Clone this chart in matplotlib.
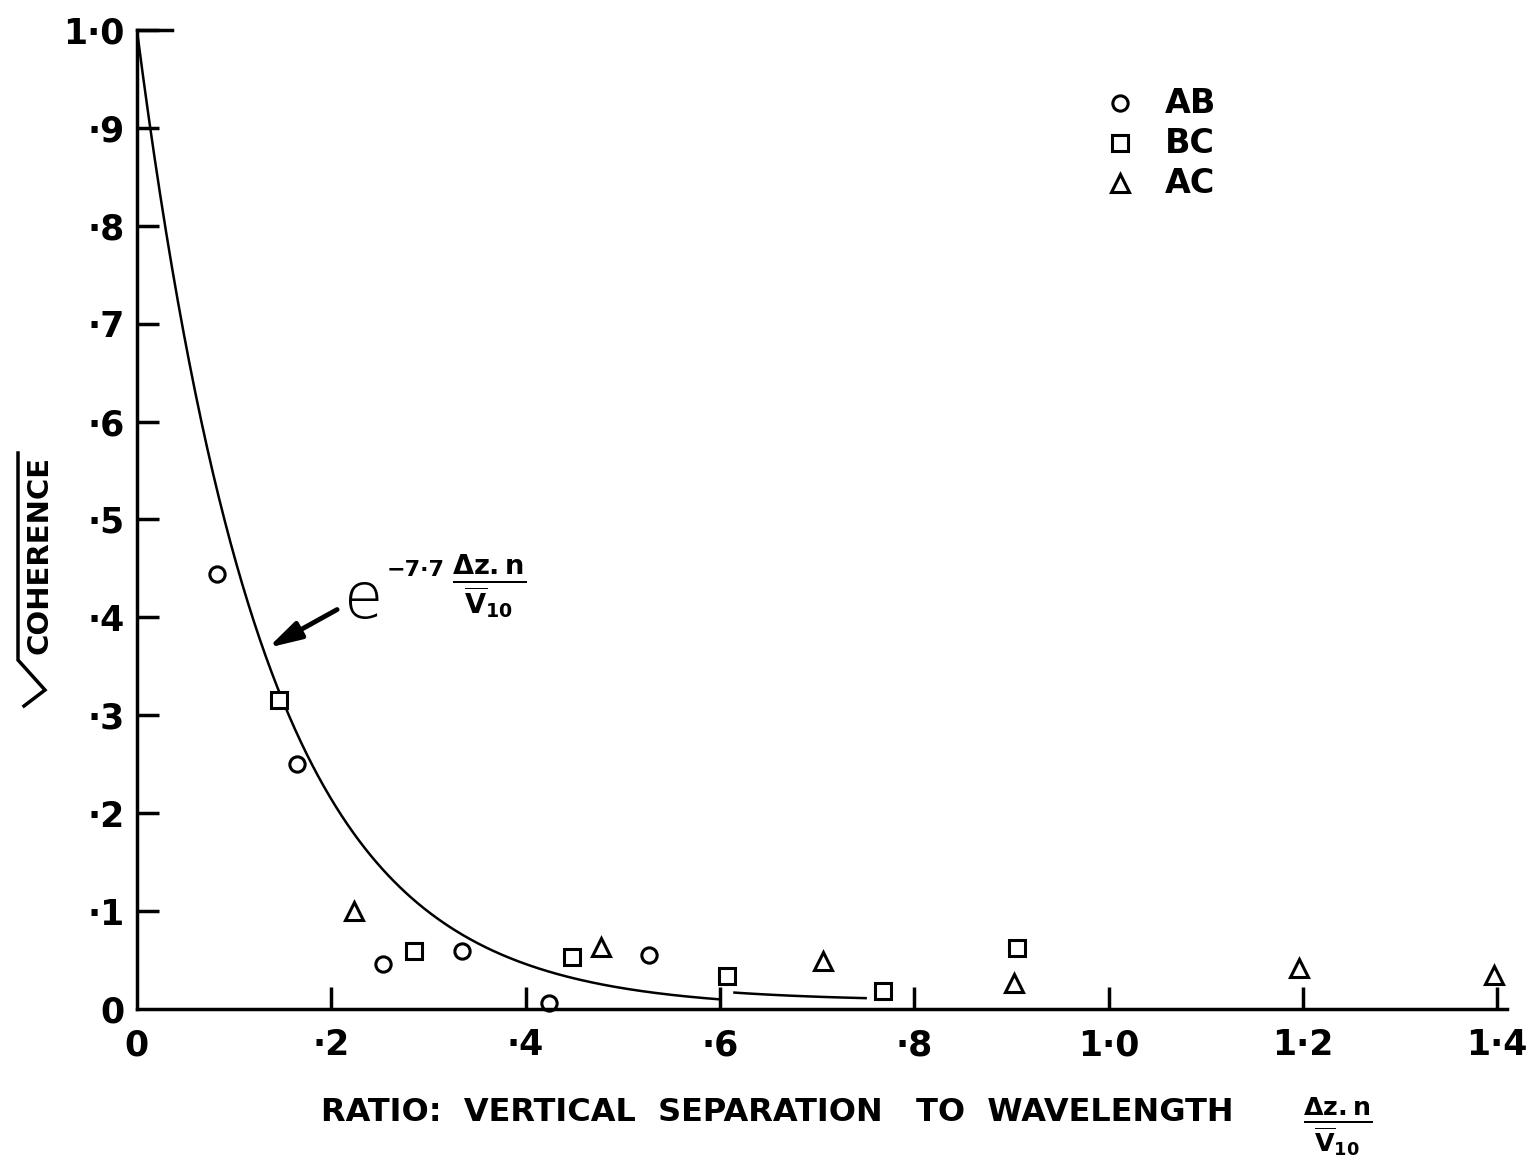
import numpy as np
import matplotlib.pyplot as plt
from matplotlib.lines import Line2D

# measured points, sqrt(coherence) against dz.n / V10
ab_x = [0.082, 0.165, 0.253, 0.335, 0.424, 0.527]
ab_y = [0.444, 0.250, 0.046, 0.059, 0.006, 0.055]
bc_x = [0.146, 0.285, 0.448, 0.607, 0.768, 0.906]
bc_y = [0.316, 0.059, 0.053, 0.034, 0.018, 0.062]
ac_x = [0.223, 0.478, 0.706, 0.903, 1.196, 1.397]
ac_y = [0.100, 0.063, 0.049, 0.027, 0.042, 0.035]

decay = 7.7
xticks = [0, 0.2, 0.4, 0.6, 0.8, 1.0, 1.2, 1.4]
xtick_labels = ['0', '·2', '·4', '·6', '·8', '1·0', '1·2', '1·4']
yticks = [0, 0.1, 0.2, 0.3, 0.4, 0.5, 0.6, 0.7, 0.8, 0.9, 1.0]
ytick_labels = ['0', '·1', '·2', '·3', '·4', '·5', '·6', '·7', '·8', '·9', '1·0']

plt.rcParams['font.family'] = ['DejaVu Sans']
plt.rcParams['font.weight'] = 'bold'

W, H = 1530, 1176
fig = plt.figure(figsize=(W / 100, H / 100), dpi=100)
ax = fig.add_axes([0.0895, 0.142, 0.8954, 0.8325])
ax.set_xlim(0, 1.41)
ax.set_ylim(0, 1.0)
ax.spines['top'].set_visible(False)
ax.spines['right'].set_visible(False)
ax.spines['left'].set_linewidth(2.5)
ax.spines['bottom'].set_linewidth(2.5)
ax.spines['left'].set_bounds(0, 1.0)
ax.plot([0, 0.036], [1.0, 1.0], color='black', lw=2.5, clip_on=False)

ax.set_xticks(xticks)
ax.set_xticklabels(xtick_labels)
ax.set_yticks(yticks)
ax.set_yticklabels(ytick_labels)
ax.tick_params(direction='in', length=16, width=2.5, labelsize=25)
ax.tick_params(axis='y', pad=9)
ax.tick_params(axis='x', pad=14)
# no tick marks at the origin
ax.xaxis.get_major_ticks()[0].tick1line.set_visible(False)
ax.yaxis.get_major_ticks()[0].tick1line.set_visible(False)

# fitted exponential, drawn in two pieces like the hand-inked curve
xa = np.linspace(0, 0.6, 300)
xb = np.linspace(0.615, 0.75, 60)
ax.plot(xa, np.exp(-decay * xa), color='black', lw=1.8)
ax.plot(xb, np.exp(-decay * xb) + 0.008, color='black', lw=1.8)

mk = dict(linestyle='none', markerfacecolor='white', markeredgecolor='black',
          markeredgewidth=2.2, clip_on=False)
ax.plot(ab_x, ab_y, marker='o', markersize=11, **mk)
ax.plot(bc_x, bc_y, marker='s', markersize=11, **mk)
ax.plot(ac_x, ac_y, marker='^', markersize=13, **mk)

# legend drawn by hand in the upper right
for i, (m, s, lab) in enumerate([('o', 11, 'AB'), ('s', 11, 'BC'), ('^', 13, 'AC')]):
    yy = 0.925 - 0.0409 * i
    ax.plot([1.012], [yy], marker=m, markersize=s, **mk)
    ax.text(1.058, yy, lab, fontsize=24, va='center', ha='left')

# formula label with arrow to the curve
ax.annotate('', xy=(0.135, 0.369), xytext=(0.206, 0.408),
            arrowprops=dict(arrowstyle='-|>,head_length=0.9,head_width=0.25',
                            color='black', lw=3.5, mutation_scale=22,
                            shrinkA=0, shrinkB=0))
ax.text(0.213, 0.399, 'e', fontsize=46, fontweight='light', va='baseline')
ax.text(0.257, 0.448, '−7·7', fontsize=16, va='center')
ax.text(0.363, 0.432, r'$\frac{\mathbf{\Delta z.n}}{\mathbf{\overline{V}_{10}}}$',
        fontsize=28, va='center', ha='center')

# y label: square-root sign drawn as strokes, text beside it
rad_px = [(18, 453), (18, 660), (45, 690), (24, 706)]
fig.add_artist(Line2D([p[0] / W for p in rad_px], [1 - p[1] / H for p in rad_px],
                      color='black', lw=2.5, solid_joinstyle='miter'))
fig.text(40 / W, 1 - 555 / H, 'COHERENCE', fontsize=21, rotation=90,
         va='center', ha='center')

fig.text(0.21, 0.054, 'RATIO:  VERTICAL  SEPARATION   TO  WAVELENGTH',
         fontsize=23, va='center')
fig.text(0.874, 0.042, r'$\frac{\mathbf{\Delta z.n}}{\mathbf{\overline{V}_{10}}}$',
         fontsize=26, va='center', ha='center')

fig.savefig('out.png', dpi=100)
